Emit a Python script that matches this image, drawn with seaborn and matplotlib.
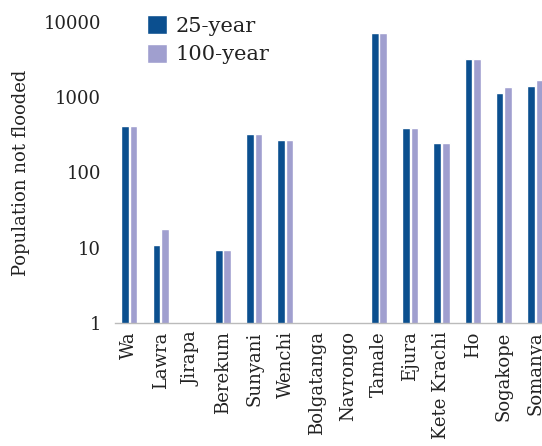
import matplotlib as mpl
mpl.use('Agg')
import matplotlib.pyplot as plt
import seaborn as sns
import pandas as pd
import numpy as np

# Data (0 = no bar)
towns = ['Wa', 'Lawra', 'Jirapa', 'Berekum', 'Sunyani', 'Wenchi', 'Bolgatanga',
         'Navrongo', 'Tamale', 'Ejura', 'Kete Krachi', 'Ho', 'Sogakope', 'Somanya']
pop_25 = [420, 11, 0, 9.2, 325, 270, 0, 0, 7200, 390, 250, 3200, 1150, 1420]
pop_100 = [420, 17.7, 0, 9.2, 325, 270, 0, 0, 7200, 390, 250, 3200, 1350, 1700]
series = ['25-year', '100-year']
colors = ['#0b4f8f', '#a09fcf']
yticks = [1, 10, 100, 1000, 10000]

sns.set_style('white')
plt.rcParams['font.family'] = ['DejaVu Serif']

df = pd.DataFrame({
    'town': towns * 2,
    'pop': pop_25 + pop_100,
    'period': [series[0]] * len(towns) + [series[1]] * len(towns),
})

fig = plt.figure(figsize=(5.42, 4.46), dpi=100)
ax = fig.add_axes([0.2122, 0.2758, 0.7878, 0.6749])

sns.barplot(data=df, x='town', y='pop', hue='period', palette=colors,
            width=0.54, gap=0.1, ax=ax, errorbar=None, saturation=1)
ax.set_yscale('log')

ax.set_ylim(1, 10000)
ax.set_xlim(-0.46, 13.22)
ax.set_yticks(yticks)
ax.set_yticklabels([str(t) for t in yticks])
ax.yaxis.set_minor_locator(mpl.ticker.NullLocator())
ax.tick_params(axis='y', length=0, labelsize=13, pad=10, colors='#222222')
ax.tick_params(axis='x', length=0, labelsize=13, rotation=90, pad=6, colors='#222222')
ax.set_xlabel('')
ax.set_ylabel('Population not flooded', fontsize=13, color='#222222', labelpad=10)

for s in ['top', 'right', 'left']:
    ax.spines[s].set_visible(False)
ax.spines['bottom'].set_color('#bbbbbb')
ax.spines['bottom'].set_linewidth(1)

leg = ax.legend(loc='upper left', bbox_to_anchor=(0.03, 1.085), frameon=False,
                fontsize=15, handlelength=1.0, handleheight=1.0,
                handletextpad=0.4, labelspacing=0.4)
for t in leg.get_texts():
    t.set_color('#222222')

fig.savefig('out.png', dpi=100)
